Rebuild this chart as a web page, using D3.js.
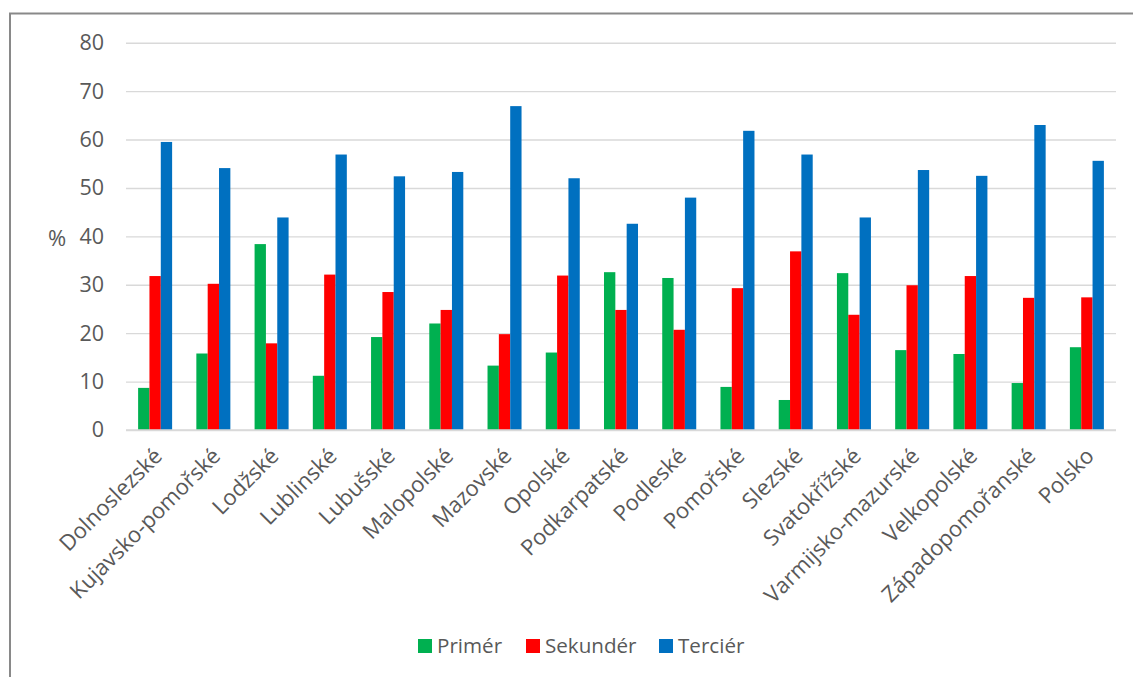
<!DOCTYPE html>
<html>
<head>
<meta charset="utf-8">
<script src="https://cdn.jsdelivr.net/npm/d3@7"></script>
<style>
  html, body { margin: 0; padding: 0; background: #fff; }
  svg { display: block; }
  text { font-family: "Open Sans", sans-serif; fill: #595959; }
</style>
</head>
<body>
<svg id="chart" width="1133" height="677"></svg>
<script>
const categories = ["Dolnoslezské","Kujavsko-pomořské","Lodžské","Lublinské","Lubušské","Malopolské","Mazovské","Opolské","Podkarpatské","Podleské","Pomořské","Slezské","Svatokřížské","Varmijsko-mazurské","Velkopolské","Západopomořanské","Polsko"];
const seriesNames = ["Primér","Sekundér","Terciér"];
const primer   = [8.7, 15.8, 38.4, 11.2, 19.2, 22.0, 13.3, 16.0, 32.6, 31.4, 8.9, 6.2, 32.4, 16.5, 15.7, 9.7, 17.1];
const sekunder = [31.8, 30.2, 17.9, 32.1, 28.5, 24.8, 19.8, 31.9, 24.8, 20.7, 29.3, 36.9, 23.8, 29.9, 31.8, 27.3, 27.4];
const tercier  = [59.5, 54.1, 43.9, 56.9, 52.4, 53.3, 66.9, 52.0, 42.6, 48.0, 61.8, 56.9, 43.9, 53.7, 52.5, 63.0, 55.6];
const yTicks = [0, 10, 20, 30, 40, 50, 60, 70, 80];
const colors = ["#00b050", "#ff0000", "#0070c0"];
const yLabel = "%";

const seriesValues = [primer, sekunder, tercier];
const data = categories.map((c, i) => ({ cat: c, vals: seriesValues.map((s, j) => ({ name: seriesNames[j], v: s[i] })) }));

const svg = d3.select("#chart");

// outer frame
svg.append("rect").attr("x", 10).attr("y", 13.5).attr("width", 1200).attr("height", 800)
  .attr("fill", "none").attr("stroke", "#898989").attr("stroke-width", 2);

const x0 = d3.scaleBand().domain(categories).range([126, 1116]).paddingInner(0.416).paddingOuter(0.208);
const x1 = d3.scaleBand().domain(seriesNames).range([0, x0.bandwidth()]);
const y = d3.scaleLinear().domain([0, 80]).range([430, 42.7]);
const color = d3.scaleOrdinal().domain(seriesNames).range(colors);

// gridlines
const grid = svg.append("g").attr("transform", "translate(126,0)")
  .call(d3.axisLeft(y).tickValues(yTicks).tickSize(-990).tickFormat(""));
grid.select(".domain").remove();
grid.selectAll("line").attr("stroke", "#d9d9d9").attr("stroke-width", 1.4);

// y tick labels
const yAxis = svg.append("g").attr("transform", "translate(104,0)")
  .call(d3.axisLeft(y).tickValues(yTicks).tickSize(0).tickPadding(0));
yAxis.select(".domain").remove();
yAxis.selectAll("text").attr("font-size", 21.5).attr("fill", "#595959").style("font-family", "Open Sans");

svg.append("text").attr("x", 57).attr("y", 238).attr("dy", "0.35em").attr("text-anchor", "middle")
  .attr("font-size", 22).text(yLabel);

// bars
const groups = svg.append("g").selectAll("g").data(data).join("g")
  .attr("transform", d => `translate(${x0(d.cat)},0)`);
groups.selectAll("rect").data(d => d.vals).join("rect")
  .attr("x", d => x1(d.name))
  .attr("width", x1.bandwidth())
  .attr("y", d => y(d.v))
  .attr("height", d => y(0) - y(d.v))
  .attr("fill", d => color(d.name));

// baseline
svg.append("line").attr("x1", 126).attr("x2", 1116).attr("y1", y(0)).attr("y2", y(0))
  .attr("stroke", "#d9d9d9").attr("stroke-width", 1.6);

// category labels
const xAxis = svg.append("g").attr("transform", `translate(0,${y(0)})`)
  .call(d3.axisBottom(x0).tickSize(0).tickPadding(0));
xAxis.select(".domain").remove();
xAxis.selectAll("text")
  .attr("font-size", 22)
  .attr("fill", "#595959")
  .style("font-family", "Open Sans")
  .attr("text-anchor", "end")
  .attr("transform", "translate(3,22) rotate(-45)")
  .attr("dy", "0.35em")
  .attr("y", 0).attr("x", 0);

// legend
const legendX = [418, 526, 659];
const leg = svg.append("g").selectAll("g").data(seriesNames).join("g")
  .attr("transform", (d, i) => `translate(${legendX[i]},639)`);
leg.append("rect").attr("width", 14).attr("height", 14).attr("fill", d => color(d));
leg.append("text").attr("x", 19).attr("y", 7).attr("dy", "0.35em").attr("font-size", 20.6).text(d => d);
</script>
</body>
</html>
